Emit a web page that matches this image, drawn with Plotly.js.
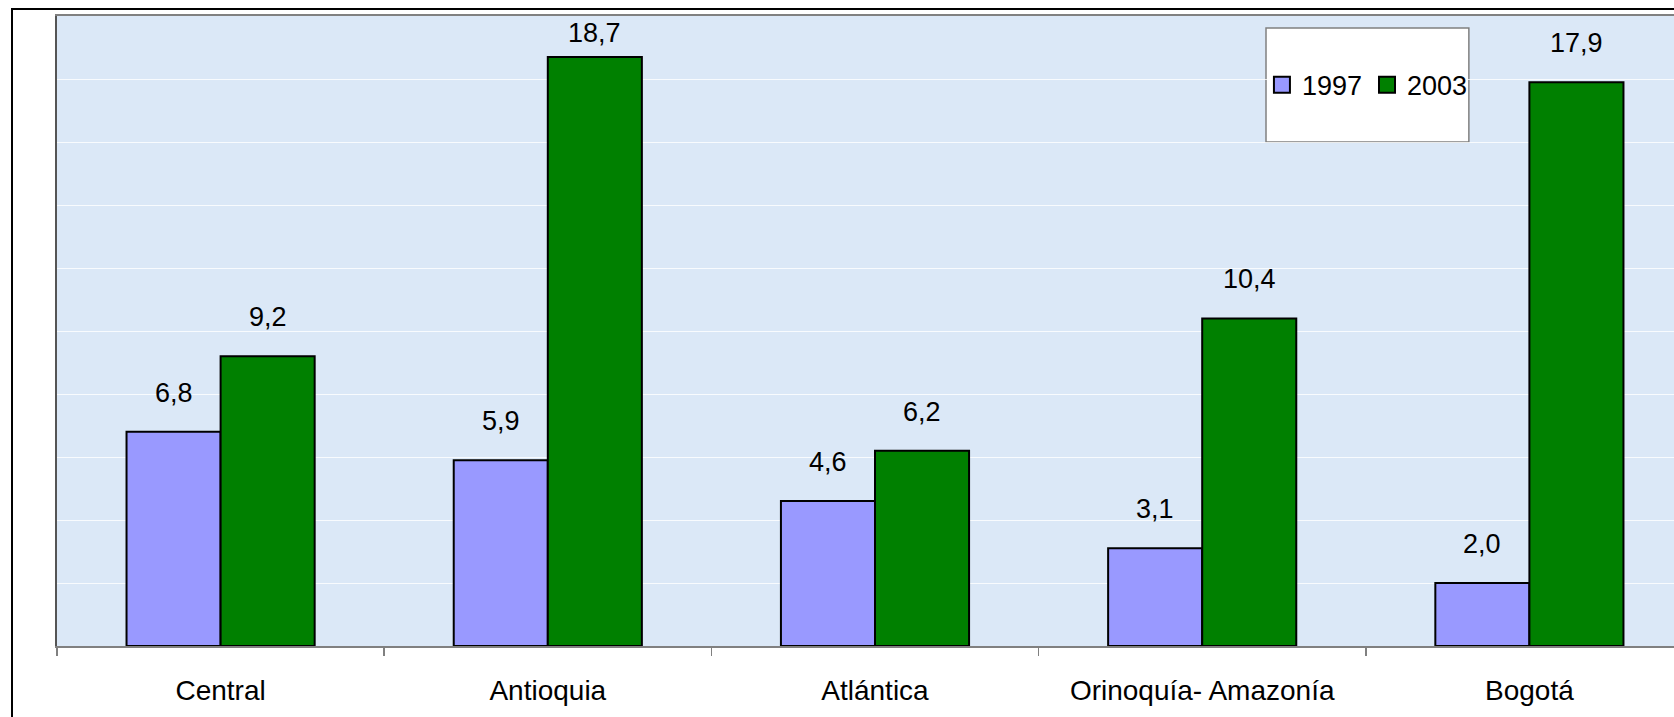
<!DOCTYPE html>
<html>
<head>
<meta charset="utf-8">
<script src="https://cdn.plot.ly/plotly-3.0.1.min.js"></script>
<style>
html,body{margin:0;padding:0;background:#fff;overflow:hidden;width:1674px;height:717px;}
#frame{position:absolute;left:11px;top:8px;width:1800px;height:800px;border:2px solid #000;box-sizing:border-box;pointer-events:none;}
#chart{position:absolute;left:0;top:0;}
</style>
</head>
<body>
<div id="chart"></div>
<div id="frame"></div>
<script>
// ---- data ----
const categories = ["Central", "Antioquia", "Atlántica", "Orinoquía- Amazonía", "Bogotá"];
const seriesNames = ["1997", "2003"];
const values1997 = [6.8, 5.9, 4.6, 3.1, 2.0];
const values2003 = [9.2, 18.7, 6.2, 10.4, 17.9];

// ---- style ----
const FONT = '"Liberation Sans", Arial, sans-serif';
const colors = ["#9999FF", "#008000"];
const bargap = 0.425;
const yRange = [0, 20];
const plotH = 630; // plot area height in px
const pxPerUnit = plotH / (yRange[1] - yRange[0]);

function fmt(v){ return v.toFixed(1).replace('.', ','); }

const allSeries = [values1997, values2003];
const traces = allSeries.map((vals, s) => ({
  type: 'bar',
  name: seriesNames[s],
  x: categories,
  y: vals,
  showlegend: false,
  marker: {color: colors[s], line: {color: '#000', width: 2}},
  hoverinfo: 'x+y'
}));
// legend entries with larger square swatches
seriesNames.forEach((n, s) => {
  traces.push({
    type: 'scatter', mode: 'markers', name: n,
    x: [null], y: [null],
    marker: {symbol: 'square', size: 16, color: colors[s], line: {color: '#000', width: 2}},
    showlegend: true, hoverinfo: 'skip'
  });
});

const barW = (1 - bargap) / 2;
const annotations = [];
allSeries.forEach((vals, s) => {
  vals.forEach((v, i) => {
    const topPx = (yRange[1] - v) * pxPerUnit; // distance from plot top
    let shift = 22;
    const labelTop = topPx - shift - 32;
    if (labelTop < 0) shift = Math.max(4, topPx - 34);
    annotations.push({
      xref: 'x', yref: 'y',
      x: i + (s === 0 ? -barW / 2 : barW / 2),
      y: v,
      text: fmt(v),
      showarrow: false,
      yanchor: 'bottom',
      yshift: shift,
      font: {family: FONT, size: 27, color: '#000'}
    });
  });
});

const layout = {
  width: 1760,
  height: 717,
  margin: {l: 57, r: 67, t: 16, b: 71},
  paper_bgcolor: 'rgba(0,0,0,0)',
  plot_bgcolor: '#dbe8f7',
  barmode: 'group',
  bargap: bargap,
  bargroupgap: 0,
  showlegend: true,
  font: {family: FONT, size: 27, color: '#000'},
  xaxis: {
    type: 'category',
    tickson: 'boundaries',
    ticks: 'outside',
    ticklen: 8,
    tickwidth: 1.5,
    tickcolor: '#808080',
    showline: true,
    linecolor: '#808080',
    linewidth: 2,
    mirror: true,
    showgrid: false,
    ticklabelstandoff: 18,
    tickfont: {family: FONT, size: 28, color: '#000'}
  },
  yaxis: {
    range: yRange,
    dtick: 2,
    showticklabels: false,
    ticks: '',
    showgrid: true,
    gridcolor: 'rgba(255,255,255,0.8)',
    gridwidth: 1,
    zeroline: false,
    showline: true,
    linecolor: '#555',
    linewidth: 2,
    mirror: true
  },
  legend: {
    orientation: 'h',
    x: 0.801, y: 0.890,
    xanchor: 'center', yanchor: 'middle',
    bgcolor: 'rgba(0,0,0,0)',
    borderwidth: 0,
    itemwidth: 30,
    font: {family: FONT, size: 27, color: '#000'}
  },
  shapes: [{
    type: 'rect', xref: 'paper', yref: 'paper',
    x0: 0.739, x1: 0.863, y0: 0.800, y1: 0.981,
    fillcolor: '#fff', line: {color: '#808080', width: 1.5},
    layer: 'below'
  }],
  annotations: annotations
};

Plotly.newPlot('chart', traces, layout, {displayModeBar: false, staticPlot: true});
</script>
</body>
</html>
